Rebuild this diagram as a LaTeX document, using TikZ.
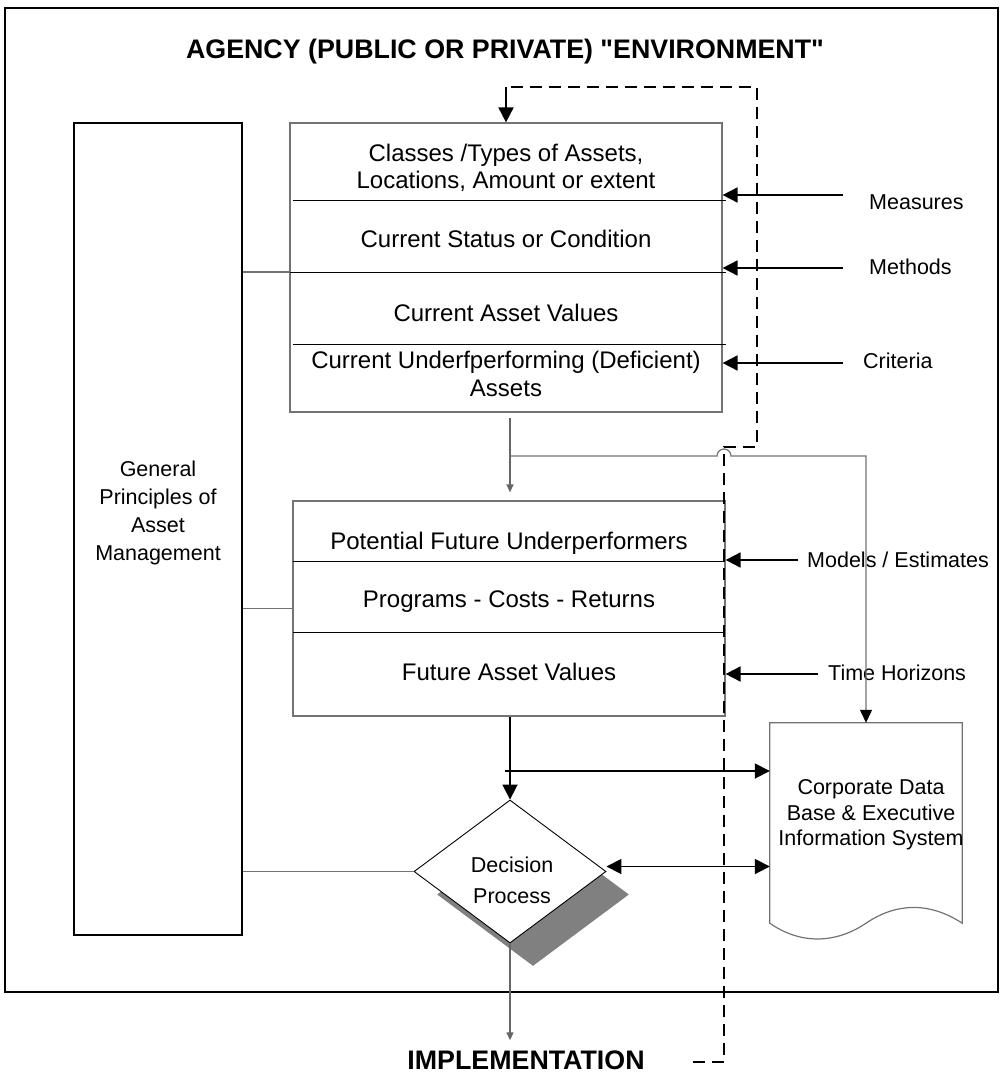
\documentclass[tikz,border=0pt]{standalone}
\usepackage{fontspec}
\setmainfont{Liberation Sans}
\usetikzlibrary{arrows.meta, shapes.geometric, shadows, positioning, calc}

\begin{document}
\begin{tikzpicture}[
      x=1pt, y=-1pt,
      every node/.style = {font=\fontsize{24}{27.5}\selectfont},
      envframe/.style   = {draw, line width=1.8pt, minimum width=993pt,
                           minimum height=984pt, inner sep=0pt},
      heading/.style    = {font=\fontsize{26.8}{30}\selectfont\bfseries},
      stack/.style      = {draw=black!55, line width=1.2pt, inner sep=0pt},
      rowtext/.style    = {align=center},
      principles/.style = {draw, line width=1.8pt, minimum width=168pt,
                           minimum height=812pt},
      smalltext/.style  = {align=center, font=\fontsize{21.5}{28}\selectfont},
      sidelabel/.style  = {anchor=west, inner sep=0pt,
                           font=\fontsize{21.5}{25}\selectfont},
      decision/.style   = {diamond, draw, line width=0.9pt, fill=white,
                           minimum width=192pt, minimum height=143pt,
                           inner sep=0pt,
                           drop shadow={shadow xshift=23pt, shadow yshift=-23pt,
                                        fill=black!50, opacity=1}},
      divider/.style    = {line width=1pt},
      link/.style       = {draw=black!55, line width=1.2pt},
      arr/.style        = {-{Triangle[length=15pt, width=15pt]}, line width=1.8pt},
      twoway/.style     = {{Triangle[length=15pt, width=15pt]}-{Triangle[length=15pt, width=15pt]},
                           line width=1.8pt},
      tinyarr/.style    = {-{Triangle[length=8pt, width=7pt]}, draw=black!60,
                           line width=1.2pt},
      feedback/.style   = {dash pattern=on 12pt off 7pt, line width=1.8pt}
    ]
    \useasboundingbox (0,0) rectangle (1004,1074);

    % ---- outer frame and headings ----
    \node[envframe] (env) at (501.5,500) {};
    \node[heading] (title) at (505,52) {AGENCY (PUBLIC OR PRIVATE) \textquotedbl ENVIRONMENT\textquotedbl};
    \node[heading, inner ysep=10pt] (impl) at (526,1060) {IMPLEMENTATION};

    % ---- left column ----
    \node[principles] (gp) at (158,529) {};
    \node[smalltext] (gpname) at (158,513) {General\\Principles of\\Asset\\Management};

    % ---- current inventory stack ----
    \node[stack, minimum width=432pt, minimum height=289pt] (cur) at (506,267.5) {};
    \node[rowtext] (classes)   at (506,168) {Classes /Types of Assets,\\Locations, Amount or extent};
    \node[rowtext] (status)    at (506,239) {Current Status or Condition};
    \node[rowtext] (values)    at (506,313) {Current Asset Values};
    \node[rowtext] (deficient) at (506,374) {Current Underfperforming (Deficient)\\Assets};
    \coordinate (curmid) at (290,272);
    \draw[divider] (293,200) -- (726,200);
    \draw[divider] (curmid)  -- (726,272);
    \draw[divider] (293,344) -- (726,344);

    % ---- future stack ----
    \node[stack, minimum width=432pt, minimum height=215pt] (fut) at (509,608.5) {};
    \node[rowtext] (potential) at (509,543) {Potential Future Underperformers};
    \node[rowtext] (programs)  at (509,602) {Programs - Costs - Returns};
    \node[rowtext] (futvalues) at (509,672) {Future Asset Values};
    \draw[divider] (293,561) -- (725,561);
    \draw[divider] (293,632) -- (725,632);

    % ---- decision and data base ----
    \node[decision] (dec) at (510,871.5) {};
    \node[align=center, font=\fontsize{21.5}{31}\selectfont] (decname) at (512,880) {Decision\\Process};
    \node[minimum width=192pt, minimum height=200pt, inner sep=0pt] (doc) at (866,823) {};
    \draw[stack] (doc.north west) -- (doc.north east) -- (doc.south east)
        .. controls +(-32,-21) and +(31,-21) .. (doc.south)
        .. controls +(-31,21) and +(30,21) .. (doc.south west) -- cycle;
    \node[align=center, font=\fontsize{21.5}{25.5}\selectfont] (docname) at (871,815)
        {Corporate Data\\Base \& Executive\\Information System};

    % ---- side inputs ----
    \node[sidelabel] (meas)   at (869,202) {Measures};
    \node[sidelabel] (meth)   at (869,267) {Methods};
    \node[sidelabel] (crit)   at (863,361) {Criteria};
    \node[sidelabel] (models) at (807,560) {Models / Estimates};
    \node[sidelabel] (horiz)  at (828,673) {Time Horizons};
    \coordinate (measin)   at (843,195);
    \coordinate (methin)   at (843,268);
    \coordinate (critin)   at (843,363);
    \coordinate (modelsin) at (798,560);
    \coordinate (horizin)  at (818,674);
    \draw[arr] (measin)   -- (measin -| cur.east);
    \draw[arr] (methin)   -- (methin -| cur.east);
    \draw[arr] (critin)   -- (critin -| cur.east);
    \draw[arr] (modelsin) -- (modelsin -| fut.east);
    \draw[arr] (horizin)  -- (horizin -| fut.east);

    % ---- principles feed every stage ----
    \draw[link] (gp.east |- curmid) -- (curmid);
    \draw[link] (gp.east |- fut.west) -- (fut.west);
    \draw[link] (gp.east |- dec.west) -- (dec.west);

    % ---- main flow ----
    \coordinate (split) at (510,456);
    \coordinate (hop)   at (724,456);
    \coordinate (tap)   at (505,771);
    \draw[tinyarr] ([shift={(4pt,-5pt)}]cur.south) -- ([shift={(1pt,8pt)}]fut.north);
    \draw[link, -{Triangle[length=13pt, width=12pt, black]}] (split)
        -- ([xshift=-7pt]hop) arc[start angle=180, end angle=0, radius=7pt]
        -- (split -| doc.north) -- (doc.north);
    \draw[arr] (dec.north |- fut.south) -- (dec.north);
    \draw[arr] (tap) -- (tap -| doc.west);
    \draw[twoway] ([yshift=5pt]dec.east) -- ([yshift=5pt]dec.east -| doc.west);
    \draw[tinyarr] (dec.south) -- (dec.south |- impl.north);

    % ---- feedback from implementation to the environment ----
    \coordinate (fbstart) at (693,1062);
    \coordinate (jog)     at (757,447);
    \coordinate (fbtop)   at (757,87);
    \draw[feedback] (fbstart) -| (hop) -- (hop |- jog) -- (jog) |- (cur.north |- fbtop);
    \draw[arr] (cur.north |- fbtop) -- (cur.north);
\end{tikzpicture}
\end{document}
